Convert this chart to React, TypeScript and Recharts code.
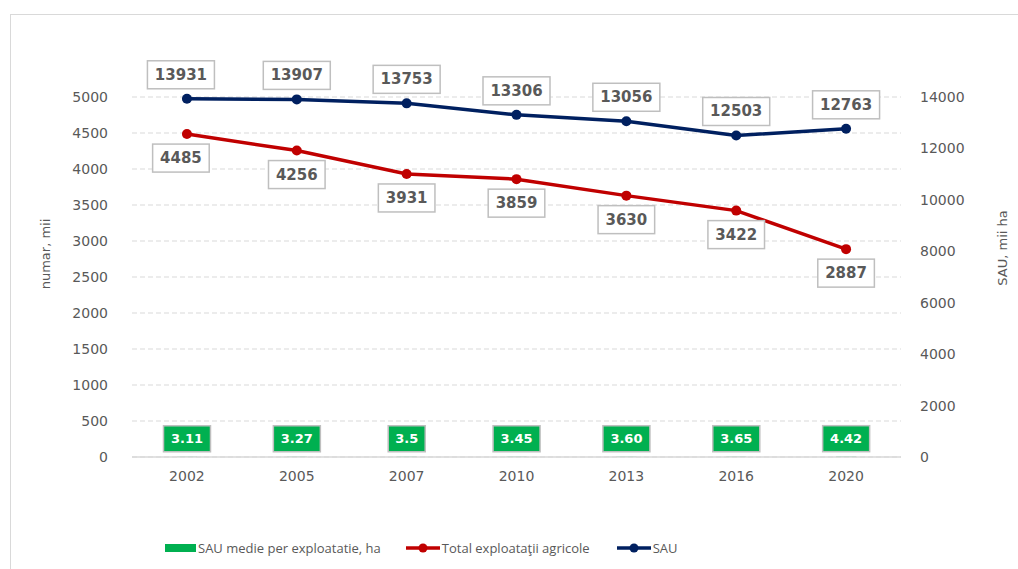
import { Bar, CartesianGrid, ComposedChart, LabelList, Line, XAxis, YAxis } from 'recharts'

const YEARS = ['2002', '2005', '2007', '2010', '2013', '2016', '2020']
const TOTAL_EXPLOATATII = [4485, 4256, 3931, 3859, 3630, 3422, 2887]
const SAU = [13931, 13907, 13753, 13306, 13056, 12503, 12763]
const SAU_MEDIE = [3.11, 3.27, 3.5, 3.45, 3.6, 3.65, 4.42]
const SAU_MEDIE_LABELS = ['3.11', '3.27', '3.5', '3.45', '3.60', '3.65', '4.42']
const LEFT_TICKS = [0, 500, 1000, 1500, 2000, 2500, 3000, 3500, 4000, 4500, 5000]
const RIGHT_TICKS = [0, 2000, 4000, 6000, 8000, 10000, 12000, 14000]

const RED = '#C00000'
const BLUE = '#002060'
const GREEN = '#00B050'
const GREY_TEXT = '#595959'
const FONT = '"DejaVu Sans", sans-serif'

const data = YEARS.map((year, i) => ({
  year,
  total: TOTAL_EXPLOATATII[i],
  sau: SAU[i],
  medie: SAU_MEDIE[i],
  medieLabel: SAU_MEDIE_LABELS[i],
}))

// excel nudges the first pair of labels a bit to the left
const nudge = (index: number) => (index === 0 ? -6 : 0)

function boxLabel(where: 'above' | 'below') {
  return (props: any) => {
    const { x, y, value, index } = props
    const text = String(value)
    const w = text.length * 10.4 + 15
    const h = 28
    const cx = x + nudge(index)
    const cy = where === 'above' ? y - 24 : y + 24
    return (
      <g>
        <rect x={cx - w / 2} y={cy - h / 2} width={w} height={h} fill="#fff" stroke="#bfbfbf" strokeWidth={1.5} />
        <text
          x={cx}
          y={cy}
          textAnchor="middle"
          dominantBaseline="central"
          fontFamily={FONT}
          fontWeight="bold"
          fontSize={15}
          fill={GREY_TEXT}
        >
          {text}
        </text>
      </g>
    )
  }
}

function GreenLabel(props: any) {
  const { x, y, width, index } = props
  const text = SAU_MEDIE_LABELS[index]
  const digits = text.replace('.', '').length
  const w = digits * 10 + 5 + 12
  const h = 26
  const cx = x + width / 2
  const cy = y - 18
  return (
    <g>
      <rect x={cx - w / 2} y={cy - h / 2} width={w} height={h} fill={GREEN} stroke="#bfbfbf" strokeWidth={1.5} />
      <text
        x={cx}
        y={cy}
        textAnchor="middle"
        dominantBaseline="central"
        fontFamily={FONT}
        fontWeight="bold"
        fontSize={13}
        fill="#fff"
      >
        {text}
      </text>
    </g>
  )
}

function AxisTitle({ cx, cy, text }: { cx: number; cy: number; text: string }) {
  return (
    <text
      x={cx}
      y={cy}
      transform={`rotate(-90, ${cx}, ${cy})`}
      textAnchor="middle"
      dominantBaseline="central"
      fontFamily={FONT}
      fontSize={13}
      fill={GREY_TEXT}
    >
      {text}
    </text>
  )
}

function LineIcon({ color }: { color: string }) {
  return (
    <svg width={34} height={10} style={{ display: 'block' }}>
      <line x1={0} y1={5} x2={34} y2={5} stroke={color} strokeWidth={3.5} />
      <circle cx={17} cy={5} r={4.5} fill={color} />
    </svg>
  )
}

const tick = { fill: GREY_TEXT, fontSize: 14, fontFamily: FONT }

export default function App() {
  return (
    <div style={{ position: 'absolute', left: 0, top: 0, width: 1018, height: 569, overflow: 'hidden', background: '#fff' }}>
      <div
        style={{
          position: 'absolute',
          left: 10,
          top: 14,
          width: 1100,
          height: 700,
          border: '1.5px solid #d9d9d9',
        }}
      />
      <div style={{ position: 'absolute', left: 0, top: 0 }}>
        <ComposedChart width={1018} height={569} data={data} margin={{ top: 97, right: 67, bottom: 82, left: 72 }}>
          <CartesianGrid yAxisId="left" vertical={false} stroke="#d9d9d9" strokeDasharray="5 3" />
          <XAxis
            dataKey="year"
            tickLine={false}
            tickSize={0}
            tickMargin={14}
            height={30}
            axisLine={{ stroke: '#d9d9d9', strokeWidth: 1.5 }}
            tick={tick}
          />
          <YAxis
            yAxisId="left"
            domain={[0, 5000]}
            ticks={LEFT_TICKS}
            width={60}
            axisLine={false}
            tickLine={false}
            tickSize={0}
            tickMargin={24}
            tick={tick}
            label={<AxisTitle cx={45} cy={254} text="numar, mii" />}
          />
          <YAxis
            yAxisId="right"
            orientation="right"
            domain={[0, 14000]}
            ticks={RIGHT_TICKS}
            width={50}
            axisLine={false}
            tickLine={false}
            tickSize={0}
            tickMargin={19}
            tick={tick}
            label={<AxisTitle cx={1002} cy={248} text="SAU, mii ha" />}
          />
          <Bar yAxisId="left" dataKey="medie" name="SAU medie per exploatatie, ha" fill={GREEN} barSize={20} isAnimationActive={false}>
            <LabelList dataKey="medieLabel" content={<GreenLabel />} />
          </Bar>
          <Line
            yAxisId="left"
            dataKey="total"
            name="Total exploataţii agricole"
            stroke={RED}
            strokeWidth={3.5}
            dot={{ r: 5, fill: RED, stroke: RED, strokeWidth: 0 }}
            activeDot={false}
            isAnimationActive={false}
          >
            <LabelList dataKey="total" content={boxLabel('below')} />
          </Line>
          <Line
            yAxisId="right"
            dataKey="sau"
            name="SAU"
            stroke={BLUE}
            strokeWidth={3.5}
            dot={{ r: 5, fill: BLUE, stroke: BLUE, strokeWidth: 0 }}
            activeDot={false}
            isAnimationActive={false}
          >
            <LabelList dataKey="sau" content={boxLabel('above')} />
          </Line>
        </ComposedChart>
      </div>
      <div
        style={{
          position: 'absolute',
          left: 165,
          top: 539,
          display: 'flex',
          alignItems: 'center',
          fontFamily: '"Open Sans", sans-serif',
          fontSize: 13,
          color: GREY_TEXT,
          whiteSpace: 'nowrap',
        }}
      >
        <span style={{ display: 'inline-block', width: 31, height: 8, background: GREEN, marginRight: 2 }} />
        <span style={{ marginRight: 25 }}>SAU medie per exploatatie, ha</span>
        <LineIcon color={RED} />
        <span style={{ marginLeft: 2, marginRight: 27 }}>Total exploataţii agricole</span>
        <LineIcon color={BLUE} />
        <span style={{ marginLeft: 2 }}>SAU</span>
      </div>
    </div>
  )
}
